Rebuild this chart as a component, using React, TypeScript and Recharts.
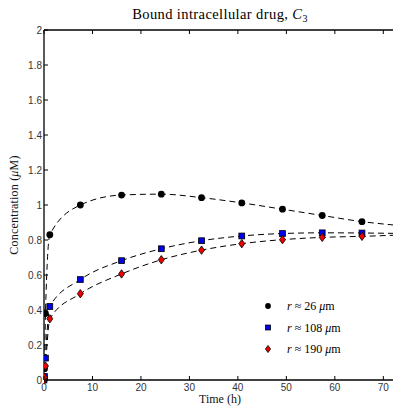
import React from 'react'
import { ComposedChart, Line, Scatter, XAxis, YAxis } from 'recharts'

// sample times (h) and measured concentrations (uM)
const times = [0, 0.1, 0.3, 1.2, 7.5, 16, 24.2, 32.5, 40.8, 49.2, 57.4, 65.6]
const c26 = [0, 0.065, 0.38, 0.83, 1.0, 1.057, 1.062, 1.042, 1.012, 0.976, 0.94, 0.905]
const c108 = [0, 0.02, 0.125, 0.42, 0.574, 0.682, 0.75, 0.796, 0.823, 0.837, 0.841, 0.84]
const c190 = [0, 0.015, 0.08, 0.35, 0.493, 0.606, 0.687, 0.742, 0.779, 0.802, 0.815, 0.821]

// where the fitted curves leave the frame
const tEnd = 72
const end26 = 0.886
const end108 = 0.838
const end190 = 0.827

const xTicks = [0, 10, 20, 30, 40, 50, 60, 70]
const yTicks = [0, 0.2, 0.4, 0.6, 0.8, 1, 1.2, 1.4, 1.6, 1.8, 2]
const legendLabels = ['26', '108', '190']

const pts = (vals: number[]) => times.map((t, i) => ({ t, c: vals[i] }))
const curve = (vals: number[], last: number) => [...pts(vals), { t: tEnd, c: last }]

const tickFont = { fontFamily: '"Liberation Sans", Arial, sans-serif', fontSize: 10, fill: '#333' }
const serif = '"Liberation Serif", "DejaVu Serif", serif'

const BottomTick = (props: any) => {
  const { x, y, payload } = props
  return (
    <g>
      <line x1={x} y1={y} x2={x} y2={y - 4} stroke="#000" />
      <text x={x} y={y + 11} textAnchor="middle" {...tickFont}>{payload.value}</text>
    </g>
  )
}
const TopTick = (props: any) => {
  const { x, y } = props
  return <line x1={x} y1={y} x2={x} y2={y + 4} stroke="#000" />
}
const LeftTick = (props: any) => {
  const { x, y, payload } = props
  return (
    <g>
      <line x1={x} y1={y} x2={x + 4} y2={y} stroke="#000" />
      <text x={x - 2} y={y + 3.5} textAnchor="end" {...tickFont}>{payload.value}</text>
    </g>
  )
}
const RightTick = (props: any) => {
  const { x, y } = props
  return <line x1={x} y1={y} x2={x - 4} y2={y} stroke="#000" />
}

const Circle = (props: any) => <circle cx={props.cx} cy={props.cy} r={(props.s || 1) * 3.4} fill="#000" />
const Square = (props: any) => {
  const h = (props.s || 1) * 2.9
  return <rect x={props.cx - h} y={props.cy - h} width={2 * h} height={2 * h} fill="#0000ee" stroke="#000" strokeWidth={0.8} />
}
const Diamond = (props: any) => {
  const { cx, cy } = props
  const k = props.s || 1
  return <path d={`M${cx},${cy - 4.2 * k} L${cx + 3 * k},${cy} L${cx},${cy + 4.2 * k} L${cx - 3 * k},${cy} Z`} fill="#ee0000" stroke="#000" strokeWidth={0.8} />
}

const Overlay = () => {
  const shapes = [Circle, Square, Diamond]
  return (
    <svg width={394} height={409} style={{ position: 'absolute', left: 0, top: 0, pointerEvents: 'none' }}>
      <text x={220} y={19} textAnchor="middle" fontFamily={serif} fontSize={14.5} letterSpacing={0.4} fill="#000">
        Bound intracellular drug, <tspan fontStyle="italic">C</tspan><tspan fontSize={10} dy={3}>3</tspan>
      </text>
      <text x={220} y={403} textAnchor="middle" fontFamily={serif} fontSize={12} fill="#111">Time (h)</text>
      <text x={18} y={205} textAnchor="middle" transform="rotate(-90 18 205)" fontFamily={serif} fontSize={12} letterSpacing={0.2} fill="#111">
        Concentration (<tspan fontStyle="italic">μ</tspan>M)
      </text>
      {legendLabels.map((lab, i) => {
        const Shape = shapes[i]
        const cy = 306 + i * 21.5
        return (
          <g key={lab}>
            <Shape cx={268} cy={cy} s={0.85} />
            <text x={287} y={cy + 4} fontFamily={serif} fontSize={12} fill="#000">
              <tspan fontStyle="italic">r</tspan> ≈ {lab} <tspan fontStyle="italic">μ</tspan>m
            </text>
          </g>
        )
      })}
    </svg>
  )
}

export default function App() {
  return (
    <div style={{ position: 'absolute', left: 0, top: 0, width: 394, height: 409, background: '#fff' }}>
      <ComposedChart width={394} height={409} margin={{ top: 29, right: 0, bottom: 0, left: 0 }}>
        <XAxis xAxisId="b" dataKey="t" type="number" domain={[0, tEnd]} ticks={xTicks} allowDataOverflow
          height={29} tickSize={0} tickMargin={0} tickLine={false} tick={<BottomTick />} axisLine={{ stroke: '#000', strokeWidth: 1.3 }} />
        <XAxis xAxisId="top" orientation="top" dataKey="t" type="number" domain={[0, tEnd]} ticks={xTicks} allowDataOverflow
          height={1} tickSize={0} tickMargin={0} tickLine={false} tick={<TopTick />} axisLine={{ stroke: '#000', strokeWidth: 1.3 }} />
        <YAxis yAxisId="l" dataKey="c" type="number" domain={[0, 2]} ticks={yTicks} width={44}
          tickSize={0} tickMargin={0} tickLine={false} tick={<LeftTick />} axisLine={{ stroke: '#000', strokeWidth: 1.3 }} />
        <YAxis yAxisId="r" orientation="right" type="number" domain={[0, 2]} ticks={yTicks} width={1}
          tickSize={0} tickMargin={0} tickLine={false} tick={<RightTick />} axisLine={false} />

        <Line xAxisId="b" yAxisId="l" data={curve(c26, end26)} dataKey="c" type="monotone" stroke="#000" strokeWidth={1}
          strokeDasharray="6 4" dot={false} isAnimationActive={false} />
        <Line xAxisId="b" yAxisId="l" data={curve(c108, end108)} dataKey="c" type="monotone" stroke="#000" strokeWidth={1}
          strokeDasharray="6 4" dot={false} isAnimationActive={false} />
        <Line xAxisId="b" yAxisId="l" data={curve(c190, end190)} dataKey="c" type="monotone" stroke="#000" strokeWidth={1}
          strokeDasharray="6 4" dot={false} isAnimationActive={false} />

        <Scatter xAxisId="b" yAxisId="l" data={pts(c26)} dataKey="c" shape={<Circle />} isAnimationActive={false} />
        <Scatter xAxisId="b" yAxisId="l" data={pts(c108)} dataKey="c" shape={<Square />} isAnimationActive={false} />
        <Scatter xAxisId="b" yAxisId="l" data={pts(c190)} dataKey="c" shape={<Diamond />} isAnimationActive={false} />
      </ComposedChart>
      <Overlay />
    </div>
  )
}
